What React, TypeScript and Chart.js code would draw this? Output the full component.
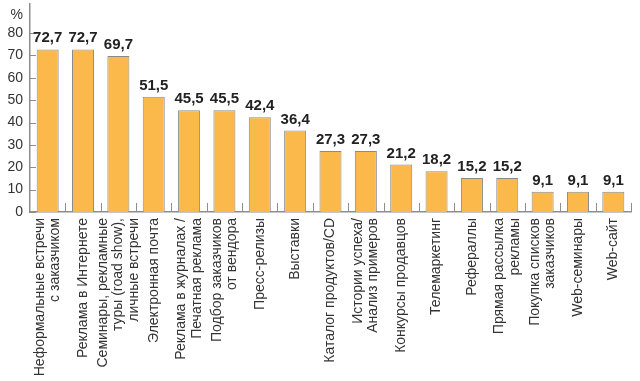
import React, { useEffect, useRef } from "react";
import { Chart, registerables } from "chart.js";

Chart.register(...registerables);

const categories: (string | string[])[] = [
  ["Неформальные встречи", "с заказчиком"],
  "Реклама в Интернете",
  ["Семинары, рекламные", "туры (road show),", "личные встречи"],
  "Электронная почта",
  ["Реклама в журналах /", "Печатная реклама"],
  ["Подбор заказчиков", "от вендора"],
  "Пресс-релизы",
  "Выставки",
  "Каталог продуктов/CD",
  ["Истории успеха/", "Анализ примеров"],
  "Конкурсы продавцов",
  "Телемаркетинг",
  "Рефераллы",
  ["Прямая рассылка", "рекламы"],
  ["Покупка списков", "заказчиков"],
  "Web-семинары",
  "Web-сайт",
];

const values = [72.7, 72.7, 69.7, 51.5, 45.5, 45.5, 42.4, 36.4, 27.3, 27.3, 21.2, 18.2, 15.2, 15.2, 9.1, 9.1, 9.1];

const yTickValues = [0, 10, 20, 30, 40, 50, 60, 70, 80];
const unitLabel = "%";
const unitTickValue = 88;
const yMax = 93;

const FONT = "'Liberation Sans', Arial, sans-serif";
const AXIS_GRAY = "#8e8e8e";
const LABEL_LINE_HEIGHT = 15.5;
const LABEL_GAP = 6;

const fmt = (v: number) => v.toFixed(1).replace(".", ",");

const decorPlugin = {
  id: "decor",
  beforeDatasetsDraw(chart: any) {
    const { ctx, chartArea, scales } = chart;
    const x = scales.x;
    const y = scales.y;
    ctx.save();
    ctx.strokeStyle = AXIS_GRAY;
    ctx.lineWidth = 1;
    ctx.beginPath();
    yTickValues.forEach((v) => {
      const py = Math.round(y.getPixelForValue(v)) + 0.5;
      ctx.moveTo(chartArea.left, py);
      ctx.lineTo(chartArea.left + 6, py);
    });
    const n = categories.length;
    for (let i = 1; i <= n; i++) {
      const px =
        i < n ? (x.getPixelForValue(i - 1) + x.getPixelForValue(i)) / 2 : chartArea.right;
      const rx = Math.round(px) + 0.5;
      ctx.moveTo(rx, chartArea.bottom - 9);
      ctx.lineTo(rx, chartArea.bottom);
    }
    ctx.stroke();
    ctx.restore();
  },
  afterDatasetsDraw(chart: any) {
    const { ctx, chartArea, scales } = chart;
    const x = scales.x;
    const meta = chart.getDatasetMeta(0);
    ctx.save();
    ctx.fillStyle = "#222";
    ctx.font = `bold 15px ${FONT}`;
    ctx.textAlign = "center";
    ctx.textBaseline = "alphabetic";
    meta.data.forEach((bar: any, i: number) => {
      ctx.fillText(fmt(values[i]), bar.x, bar.y - 7);
    });
    ctx.restore();

    // category labels, rotated, reading bottom-to-top, aligned to the axis
    ctx.save();
    ctx.fillStyle = "#333";
    ctx.font = `14px ${FONT}`;
    ctx.textAlign = "right";
    ctx.textBaseline = "middle";
    categories.forEach((cat, i) => {
      const lines = Array.isArray(cat) ? cat : [cat];
      const px = x.getPixelForValue(i);
      const top = chartArea.bottom + LABEL_GAP;
      lines.forEach((line, j) => {
        const off = (j - (lines.length - 1) / 2) * LABEL_LINE_HEIGHT;
        ctx.save();
        ctx.translate(px + off, top);
        ctx.rotate(-Math.PI / 2);
        ctx.fillText(line, 0, 0);
        ctx.restore();
      });
    });
    ctx.restore();
  },
};

export default function App() {
  const ref = useRef<HTMLCanvasElement | null>(null);

  useEffect(() => {
    if (!ref.current) return;
    const chart = new Chart(ref.current, {
      type: "bar",
      data: {
        labels: categories,
        datasets: [
          {
            data: values,
            backgroundColor: "#FBB84B",
            borderColor: "#8a8a8a",
            borderWidth: 1,
            barPercentage: 0.7,
            categoryPercentage: 0.89,
          },
        ],
      },
      options: {
        animation: false,
        responsive: true,
        maintainAspectRatio: false,
        layout: { padding: { top: 4, right: 9, left: 0, bottom: 0 } },
        plugins: {
          legend: { display: false },
          tooltip: { enabled: false },
        },
        scales: {
          x: {
            grid: { display: false, drawTicks: false },
            border: { display: true, color: AXIS_GRAY, width: 1.5 },
            ticks: { display: false },
            afterFit(scale: any) {
              scale.height = 169;
              scale.paddingLeft = 0;
              scale.paddingRight = 0;
            },
          },
          y: {
            min: 0,
            max: yMax,
            grid: { display: false, drawTicks: false },
            border: { display: true, color: AXIS_GRAY, width: 1.5 },
            afterBuildTicks(scale: any) {
              scale.ticks = [...yTickValues, unitTickValue].map((v) => ({ value: v }));
            },
            ticks: {
              padding: 7,
              color: "#333",
              font: { family: FONT, size: 14 },
              callback: (v: any) => (v === unitTickValue ? unitLabel : String(v)),
            },
            afterFit(scale: any) {
              scale.width = 30;
              scale.paddingTop = 0;
              scale.paddingBottom = 0;
            },
          },
        },
      },
      plugins: [decorPlugin],
    });
    return () => chart.destroy();
  }, []);

  return (
    <div style={{ position: "absolute", left: 0, top: 0, width: 640, height: 381, background: "#fff" }}>
      <canvas ref={ref} />
    </div>
  );
}
